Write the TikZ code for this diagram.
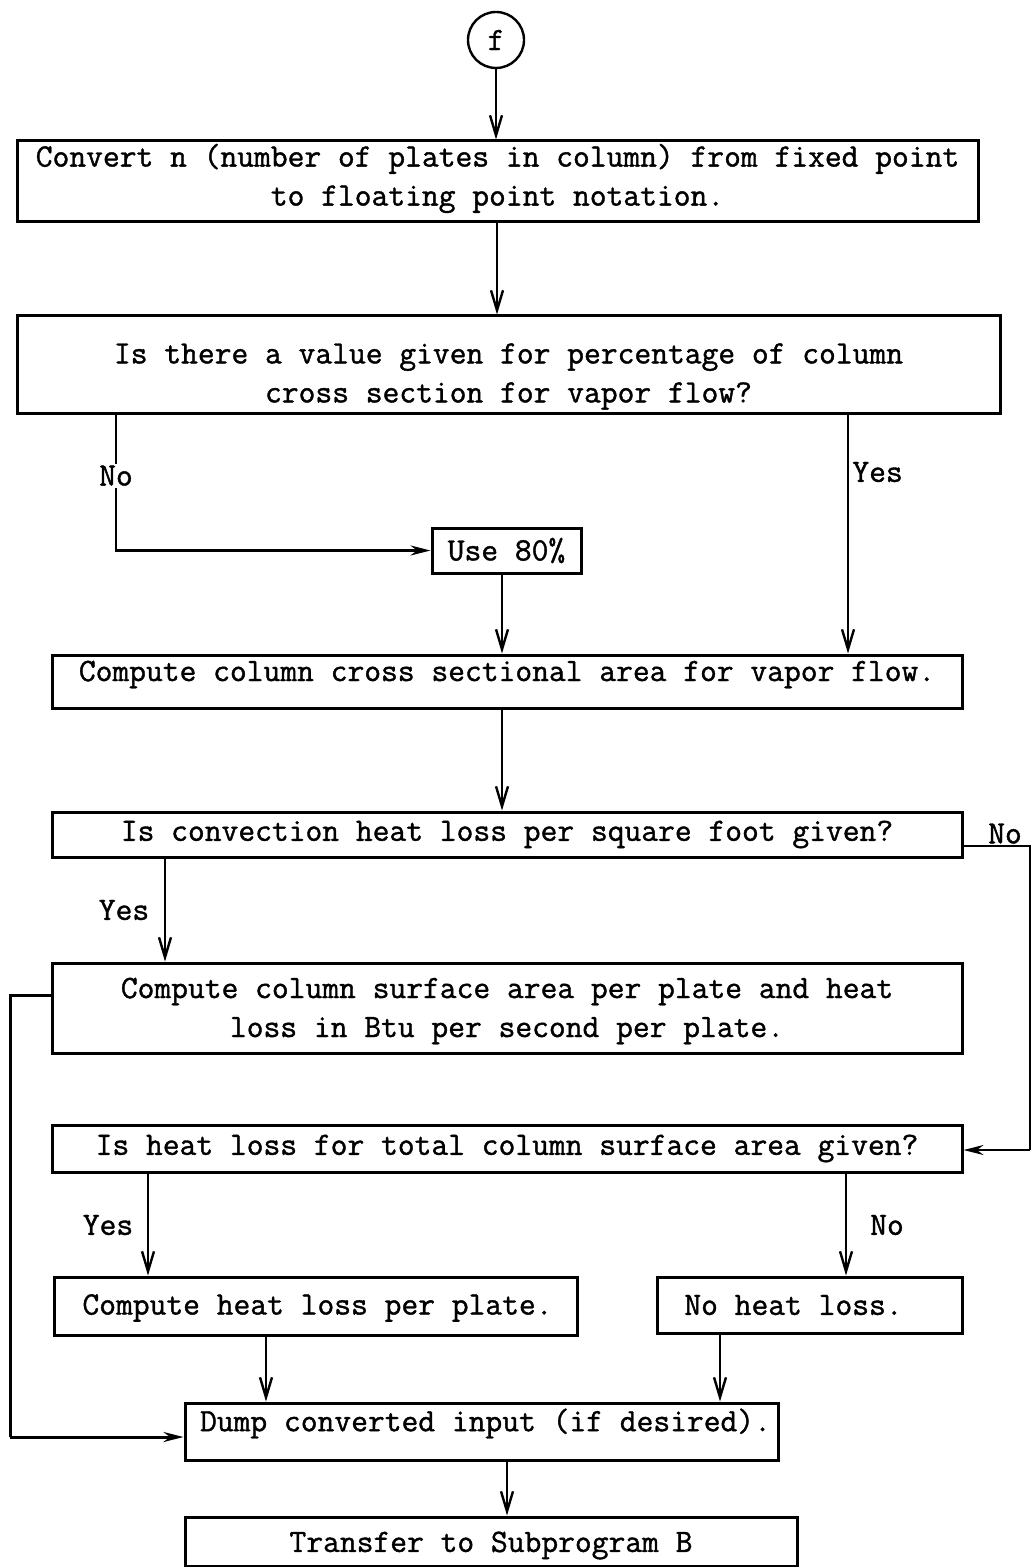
\documentclass[tikz,border=0pt]{standalone}
\usepackage{fontspec}
\usetikzlibrary{arrows.meta}
% a slightly heavier typewriter face
\newfontface\typewriter{Latin Modern Mono}[FakeBold=1.2]
\begin{document}
\begin{tikzpicture}[x=0.5pt,y=-0.5pt,
  every node/.style={font=\fontsize{16.3}{19.5}\selectfont\typewriter},
  box/.style={draw,line width=1.5pt,rectangle,inner sep=0pt},
  txt/.style={inner sep=0pt,align=center},
  conn/.style={line width=1.2pt},
  barb/.style={conn,-{Straight Barb[length=10pt,width=6pt]}},
  solid tip/.style={conn,-{Stealth[length=10pt,width=5pt]}},
  lbl/.style={inner sep=1pt}]
\useasboundingbox (0,0) rectangle (1034,1567);

% start connector
\node[draw,circle,line width=1.2pt,minimum size=28pt,inner sep=0pt] (f) at (496,40) {f};

% process and decision boxes
\node[box,minimum width=480.5pt,minimum height=40.5pt] (b1) at (497.5,181.5) {};
\node[box,minimum width=491.5pt,minimum height=48.5pt] (b2) at (508.5,364.5) {};
\node[box,minimum width=74.5pt,minimum height=22.5pt] (u80) at (506.5,550.5) {};
\node[box,minimum width=455pt,minimum height=26.5pt] (b3) at (507,681.5) {};
\node[box,minimum width=455pt,minimum height=22.5pt] (b4) at (507,834.5) {};
\node[box,minimum width=455pt,minimum height=45pt] (b5) at (507,1008) {};
\node[box,minimum width=455pt,minimum height=23.5pt] (b6) at (507,1148.5) {};
\node[box,minimum width=261.5pt,minimum height=29pt] (b7) at (315.5,1306) {};
\node[box,minimum width=152.5pt,minimum height=28pt] (b8) at (809.5,1305) {};
\node[box,minimum width=296.5pt,minimum height=28.5pt] (b9) at (481.5,1431.5) {};
\node[box,minimum width=306pt,minimum height=24.5pt] (b10) at (491,1541.5) {};

% box texts
\node[txt,yshift=1.5pt] (b1t) at (b1)
  {Convert n (number of plates in column) from fixed point\\to floating point notation.};
\node[txt,yshift=-6pt] (b2t) at (b2)
  {Is there a value given for percentage of column\\cross section for vapor flow?};
\node[txt] (u80t) at (u80) {Use 80\%};
\node[txt,yshift=3.5pt] (b3t) at (b3)
  {Compute column cross sectional area for vapor flow.};
\node[txt] (b4t) at (b4) {Is convection heat loss per square foot given?};
\node[txt,yshift=-1.5pt] (b5t) at (b5)
  {Compute column surface area per plate and heat\\loss in Btu per second per plate.};
\node[txt] (b6t) at (b6) {Is heat loss for total column surface area given?};
\node[txt,yshift=-1pt,xshift=1pt] (b7t) at (b7) {Compute heat loss per plate.};
\node[txt,xshift=-8pt] (b8t) at (b8) {No heat loss.};
\node[txt,yshift=4pt,xshift=2pt] (b9t) at (b9) {Dump converted input (if desired).};
\node[txt,yshift=-2pt] (b10t) at (b10) {Transfer to Subprogram B};

% branch columns
\coordinate (xA) at (497,0);
\coordinate (xNo1) at (116,0);
\coordinate (xYes1) at (848,0);
\coordinate (xU) at (502,0);
\coordinate (xYes2) at (165,0);
\coordinate (xR) at (1030,846);
\coordinate (xRb) at (1030,1150);
\coordinate (xL) at (10,995);
\coordinate (xLb) at (10,1437);
\coordinate (xYes3) at (148,0);
\coordinate (xNo3) at (846,0);
\coordinate (xC7) at (266,0);
\coordinate (xC8) at (720,0);
\coordinate (xC9) at (507,0);

% main line
\draw[barb] (f.south) -- (f.south |- b1.north);
\draw[barb] (b1.south -| xA) -- (xA |- b2.north);

% vapor flow percentage decision
\draw[solid tip] (b2.south -| xNo1) -- (xNo1 |- u80.west)
  node[pos=0.45,fill=white,lbl] (lNo1) {No} -- (u80.west);
\draw[barb] (b2.south -| xYes1) -- (xYes1 |- b3.north);
\node[anchor=west,lbl] (lYes1) at (850,472) {Yes};
\draw[barb] (u80.south -| xU) -- (xU |- b3.north);
\draw[barb] (b3.south -| xU) -- (xU |- b4.north);

% convection heat loss decision
\draw[conn] (b4.east |- xR) -- (xR) -- (xRb);
\draw[solid tip] (xRb) -- (b6.east |- xRb);
\node[anchor=south,lbl] (lNo2) at (1005,846) {No};
\draw[barb] (b4.south -| xYes2) -- (xYes2 |- b5.north);
\node[lbl] (lYes2) at (124,910) {Yes};

% loop from surface area box to the dump
\draw[conn,line width=1.5pt] (b5.west |- xL) -- (xL) -- (xLb);
\draw[solid tip,line width=1.5pt] (xLb) -- (b9.west |- xLb);

% total heat loss decision
\draw[barb] (b6.south -| xYes3) -- (xYes3 |- b7.north);
\node[lbl] (lYes3) at (108,1225) {Yes};
\draw[barb] (b6.south -| xNo3) -- (xNo3 |- b8.north);
\node[lbl] (lNo3) at (887,1225) {No};

% into the dump and out
\draw[barb] (b7.south -| xC7) -- (xC7 |- b9.north);
\draw[barb] (b8.south -| xC8) -- (xC8 |- b9.north);
\draw[barb] (b9.south -| xC9) -- (xC9 |- b10.north);
\end{tikzpicture}
\end{document}
